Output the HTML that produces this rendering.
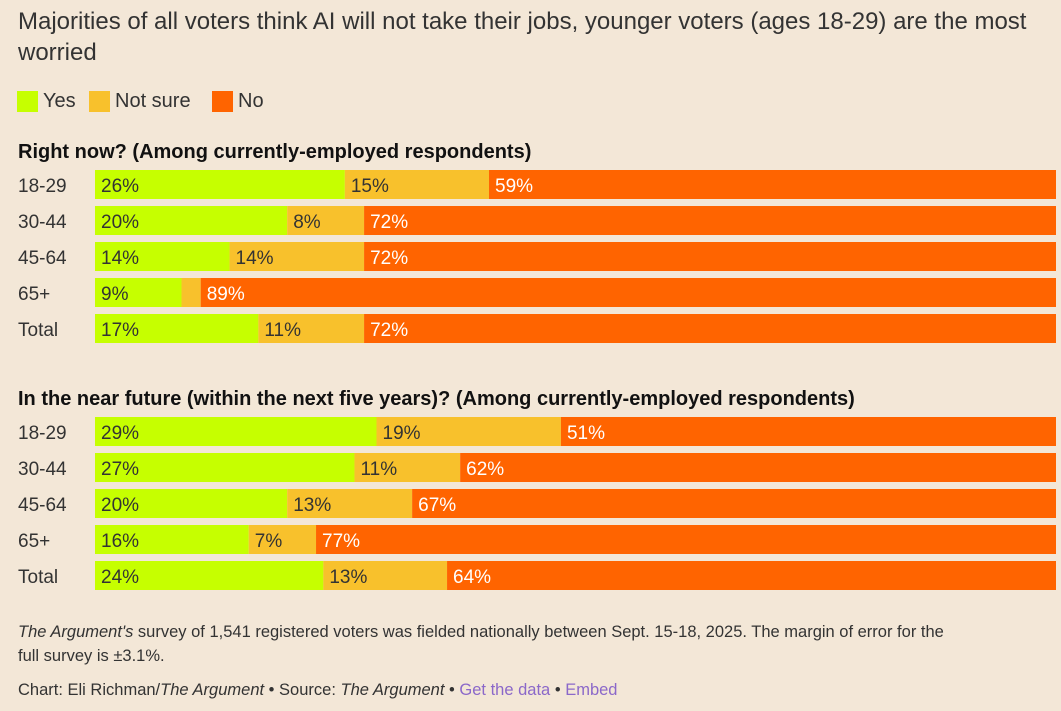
<!DOCTYPE html>
<html><head><meta charset="utf-8">
<style>
body{margin:0;background:#f3e7d7;width:1061px;height:711px;overflow:hidden;font-family:"Liberation Sans","DejaVu Sans",sans-serif;color:#222}
#t{position:absolute;left:18px;top:6px;width:1045px;font-size:24px;line-height:31px;color:#333}
.leg{position:absolute;top:90px;font-size:20px;color:#333;display:flex;align-items:center}
.leg i{display:inline-block;width:21px;height:21px;margin-right:5px}
.foot{position:absolute;left:18px;font-size:16.5px;color:#333;line-height:24px}
.foot a{color:#8b68c9;text-decoration:none}
</style></head><body>
<div id="t">Majorities of all voters think AI will not take their jobs, younger voters (ages 18-29) are the most worried</div>
<div class="leg" style="left:17px"><i style="background:#c6ff00"></i>Yes</div>
<div class="leg" style="left:89px"><i style="background:#f8c12c"></i>Not sure</div>
<div class="leg" style="left:212px"><i style="background:#ff6400"></i>No</div>
<svg id="c" width="1061" height="711" style="position:absolute;left:0;top:0"></svg>
<div class="foot" style="top:620px;width:935px"><i>The Argument's</i> survey of 1,541 registered voters was fielded nationally between Sept. 15-18, 2025. The margin of error for the full survey is ±3.1%.</div>
<div class="foot" style="top:678px">Chart: Eli Richman/<i>The Argument</i> • Source: <i>The Argument</i> • <a>Get the data</a> • <a>Embed</a></div>
<script>
const categories=["18-29","30-44","45-64","65+","Total"];
const nowYes=[26,20,14,9,17];
const nowNotSure=[15,8,14,2,11];
const nowNo=[59,72,72,89,72];
const futYes=[29,27,20,16,24];
const futNotSure=[19,11,13,7,13];
const futNo=[51,62,67,77,64];
const panels=[
 {title:"Right now? (Among currently-employed respondents)",top:170,series:[nowYes,nowNotSure,nowNo],name:"right-now"},
 {title:"In the near future (within the next five years)? (Among currently-employed respondents)",top:417,series:[futYes,futNotSure,futNo],name:"near-future"}];
const colors=["#c6ff00","#f8c12c","#ff6400"];
const x0=95,x1=1056,pitch=36,bh=29;
const svg=document.getElementById('c');const NS="http://www.w3.org/2000/svg";
function mk(t,a,txt){const e=document.createElementNS(NS,t);for(const k in a)e.setAttribute(k,a[k]);if(txt!=null)e.textContent=txt;svg.appendChild(e);return e;}
panels.forEach(p=>{
 const tt=mk('text',{x:18,y:p.top-12,'font-size':20,fill:'#111','font-weight':'bold'},p.title);
 
 
 categories.forEach((c,i)=>{
  const y=p.top+i*pitch;
  const tot=p.series[0][i]+p.series[1][i]+p.series[2][i];
  const lab=mk('text',{x:18,y:y+22,'font-size':19,fill:'#333'},c);
  
  
  let acc=0;
  p.series.forEach((s,k)=>{
   const xa=x0+(x1-x0)*acc/tot,w=(x1-x0)*s[i]/tot;acc+=s[i];
   const r=mk('rect',{x:xa,y:y,width:w,height:bh,fill:colors[k]});
   
   
   if(s[i]>=5){const t=mk('text',{x:xa+6,y:y+22,'font-size':19,fill:k==2?'#fff':'#333'},s[i]+'%');
    
    }
  });
 });
});
</script>
</body></html>
